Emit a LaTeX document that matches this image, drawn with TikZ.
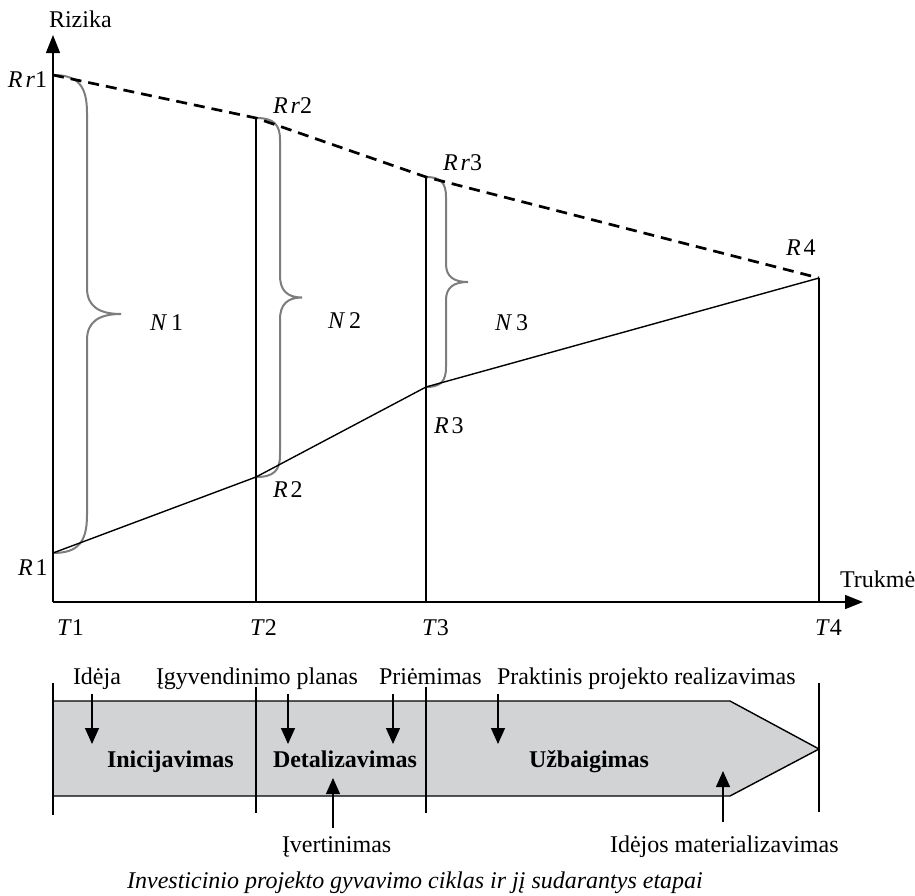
\documentclass[tikz,border=0pt]{standalone}
\usepackage{fontspec}
\setmainfont{Liberation Serif}
\usetikzlibrary{arrows.meta}
\definecolor{phasegray}{RGB}{209,211,212}
\definecolor{bracegray}{RGB}{125,125,125}
\newcommand\drawbrace[7]{% x0, ytop, ybot, body offset, tip offset, end radius, mid radius
  \draw[bracestyle] (#1,#2)
    .. controls ({#1+0.75*#4},#2) and ({#1+#4},{#2+0.3*#6}) .. ({#1+#4},{#2+#6})
    -- ({#1+#4},{(#2+#3)/2-#7})
    .. controls ({#1+#4},{(#2+#3)/2-0.3*#7}) and ({#1+#4+0.35*(#5-#4)},{(#2+#3)/2}) .. ({#1+#5},{(#2+#3)/2})
    .. controls ({#1+#4+0.35*(#5-#4)},{(#2+#3)/2}) and ({#1+#4},{(#2+#3)/2+0.3*#7}) .. ({#1+#4},{(#2+#3)/2+#7})
    -- ({#1+#4},{#3-#6})
    .. controls ({#1+#4},{#3-0.3*#6}) and ({#1+0.75*#4},#3) .. (#1,#3);
}
\begin{document}
\begin{tikzpicture}[x=1pt,y=-1pt,
  every node/.style={font=\fontsize{24}{28}\selectfont, inner sep=0pt, outer sep=0pt},
  lab/.style={anchor=base west},
  boldlab/.style={anchor=base west, font=\fontsize{24}{28}\selectfont\bfseries},
  axis/.style={line width=1.4pt, -{Triangle[length=18pt,width=14pt]}},
  thinline/.style={line width=1.4pt},
  dashline/.style={line width=2.7pt, dash pattern=on 11pt off 7pt},
  bracestyle/.style={line width=2pt, draw=bracegray},
  smallarrow/.style={line width=1.3pt, -{Triangle[length=16pt,width=14pt]}},
  phase/.style={fill=phasegray, draw=black, line width=1.4pt},
  tick/.style={line width=1.4pt},
]
\useasboundingbox (0,0) rectangle (915,895);

% key points
\coordinate (O) at (53,602);
\coordinate (ytop) at (53,35);
\coordinate (xend) at (863,602);
\coordinate (Rr1) at (53,75);
\coordinate (Rr2) at (256,118);
\coordinate (Rr3) at (426,177);
\coordinate (R4) at (819,278);
\coordinate (R1) at (53,553);
\coordinate (R2) at (256,477);
\coordinate (R3) at (426,387);
\coordinate (T2) at (256,602);
\coordinate (T3) at (426,602);
\coordinate (T4) at (819,602);

% braces
\drawbrace{53}{75}{553}{34}{68}{38}{26}
\drawbrace{256}{118}{477}{24}{46}{22}{22}
\drawbrace{426}{177}{387}{20}{42}{20}{18}

% axes and lines
\draw[axis] (O) -- (ytop);
\draw[axis] (O) -- (xend);
\draw[dashline] (Rr1) -- (Rr2) -- (Rr3) -- (R4);
\draw[thinline] (R1) -- (R2) -- (R3) -- (R4);
\draw[thinline] (Rr2) -- (T2);
\draw[thinline] (Rr3) -- (T3);
\draw[thinline] (R4) -- (T4);

% axis labels
\node[lab] (rizika) at (49,27) {Rizika};
\node[lab] (trukme) at (840,587) {Trukmė};
\node[lab] (lRr1) at (8,87) {\textit{R}\hspace{3pt}\textit{r}1};
\node[lab] (lRr2) at (273,113) {\textit{R}\hspace{3pt}\textit{r}2};
\node[lab] (lRr3) at (443,170) {\textit{R}\hspace{3pt}\textit{r}3};
\node[lab] (lR4) at (786,255) {\textit{R}\hspace{3pt}4};
\node[lab] (lR1) at (18,575) {\textit{R}\hspace{3pt}1};
\node[lab] (lR2) at (273,497) {\textit{R}\hspace{3pt}2};
\node[lab] (lR3) at (434,433) {\textit{R}\hspace{3pt}3};
\node[lab] (lT1) at (57,635) {\textit{T}1};
\node[lab] (lT2) at (250,635) {\textit{T}2};
\node[lab] (lT3) at (422,635) {\textit{T}3};
\node[lab] (lT4) at (815,635) {\textit{T}4};
\node[lab] (lN1) at (150,330) {\textit{N}\hspace{4pt}1};
\node[lab] (lN2) at (328,328) {\textit{N}\hspace{4pt}2};
\node[lab] (lN3) at (495,330) {\textit{N}\hspace{4pt}3};

% phase arrow
\draw[phase] (53,701) -- (730,701) -- (819,749) -- (730,796) -- (53,796) -- cycle;
\draw[tick] (53,683) -- (53,815);
\draw[tick] (256,687) -- (256,813);
\draw[tick] (426,687) -- (426,813);
\draw[tick] (819,683) -- (819,812);

\node[lab] (ideja) at (73,684) {Idėja};
\node[lab] (planas) at (156,684) {Įgyvendinimo planas};
\node[lab] (priem) at (379,684) {Priėmimas};
\node[lab] (prakt) at (497,684) {Praktinis projekto realizavimas};
\node[boldlab] (inic) at (107,767) {Inicijavimas};
\node[boldlab] (detal) at (273,767) {Detalizavimas};
\node[boldlab] (uzb) at (529,767) {Užbaigimas};
\node[lab] (ivert) at (282,852) {Įvertinimas};
\node[lab] (mater) at (610,852) {Idėjos materializavimas};
\node[anchor=base,font=\fontsize{24}{28}\selectfont\itshape] (caption) at (415,888) {Investicinio projekto gyvavimo ciklas ir jį sudarantys etapai};

% small arrows
\coordinate (a1s) at (92,694);  \coordinate (a1e) at (92,744);
\coordinate (a2s) at (288,694); \coordinate (a2e) at (288,744);
\coordinate (a3s) at (393,694); \coordinate (a3e) at (393,744);
\coordinate (a4s) at (498,694); \coordinate (a4e) at (498,744);
\coordinate (a5s) at (333,828); \coordinate (a5e) at (333,778);
\coordinate (a6s) at (723,822); \coordinate (a6e) at (723,771);
\draw[smallarrow] (a1s) -- (a1e);
\draw[smallarrow] (a2s) -- (a2e);
\draw[smallarrow] (a3s) -- (a3e);
\draw[smallarrow] (a4s) -- (a4e);
\draw[smallarrow] (a5s) -- (a5e);
\draw[smallarrow] (a6s) -- (a6e);
\end{tikzpicture}
\end{document}
